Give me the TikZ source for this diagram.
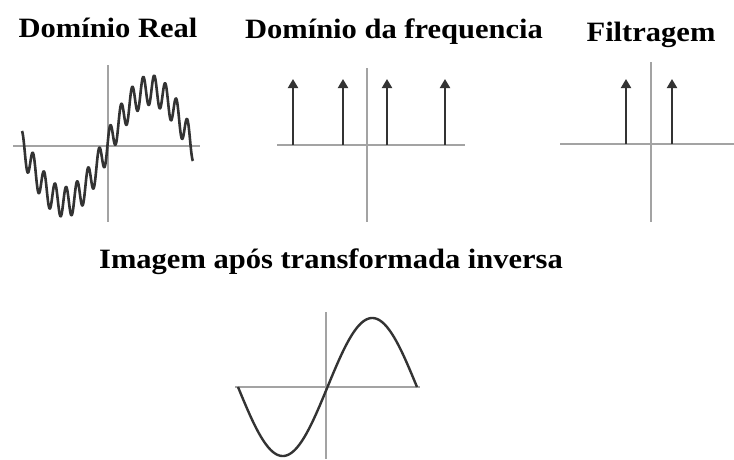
\documentclass[tikz,border=0pt]{standalone}
\usepackage{fontspec}
\setmainfont{Liberation Serif}
\newfontfamily\titlefont{Liberation Serif}[FakeStretch=1.09]
\usetikzlibrary{arrows.meta}

\tikzset{
  titulo/.style={font=\titlefont\bfseries\fontsize{28}{32}\selectfont, anchor=base, inner sep=0pt},
  eixo/.style={draw=black!36, line width=2pt},
  sinal/.style={draw=black!80, line width=2.6pt, line join=round},
  impulso/.style={draw=black!80, line width=2pt, ->},
}

\begin{document}
\begin{tikzpicture}[>={Triangle[width=10pt,length=9pt]}, x=1pt, y=-1pt]
    \useasboundingbox (0,0) rectangle (734,459);

    % 1. Domínio real: seno com ruído de alta frequência
    \node[titulo] (tReal) at (108,37) {Domínio Real};
    \draw[eixo] (13,146) -- (200,146);
    \draw[eixo] (108,65) -- (108,222);
    \draw[sinal] plot[domain=22:193, samples=600]
        (\x, {146 - 56*sin((\x-107.5)/171*360) - 15*cos((\x-22)/11.02*360)});

    % 2. Domínio da frequência: quatro impulsos
    \node[titulo] (tFreq) at (394,38) {Domínio da frequencia};
    \draw[eixo] (277,145) -- (465,145);
    \draw[eixo] (367,68) -- (367,222);
    \foreach \xf in {293, 343, 387, 445} {
        \draw[impulso] (\xf,145) -- (\xf,79);
    }

    % 3. Filtragem: só os dois impulsos centrais
    \node[titulo] (tFiltro) at (651,41) {Filtragem};
    \draw[eixo] (560,144) -- (734,144);
    \draw[eixo] (651,62) -- (651,222);
    \foreach \xf in {626, 672} {
        \draw[impulso] (\xf,144) -- (\xf,79);
    }

    % 4. Resultado após a transformada inversa
    \node[titulo] (tInv) at (331,268) {Imagem após transformada inversa};
    \draw[eixo] (235,387) -- (420,387);
    \draw[eixo] (326,312) -- (326,459);
    \draw[sinal, line width=2.4pt] plot[domain=238:417, samples=200]
        (\x, {387 + 69*sin((\x-238)/179*360)});

\end{tikzpicture}
\end{document}
